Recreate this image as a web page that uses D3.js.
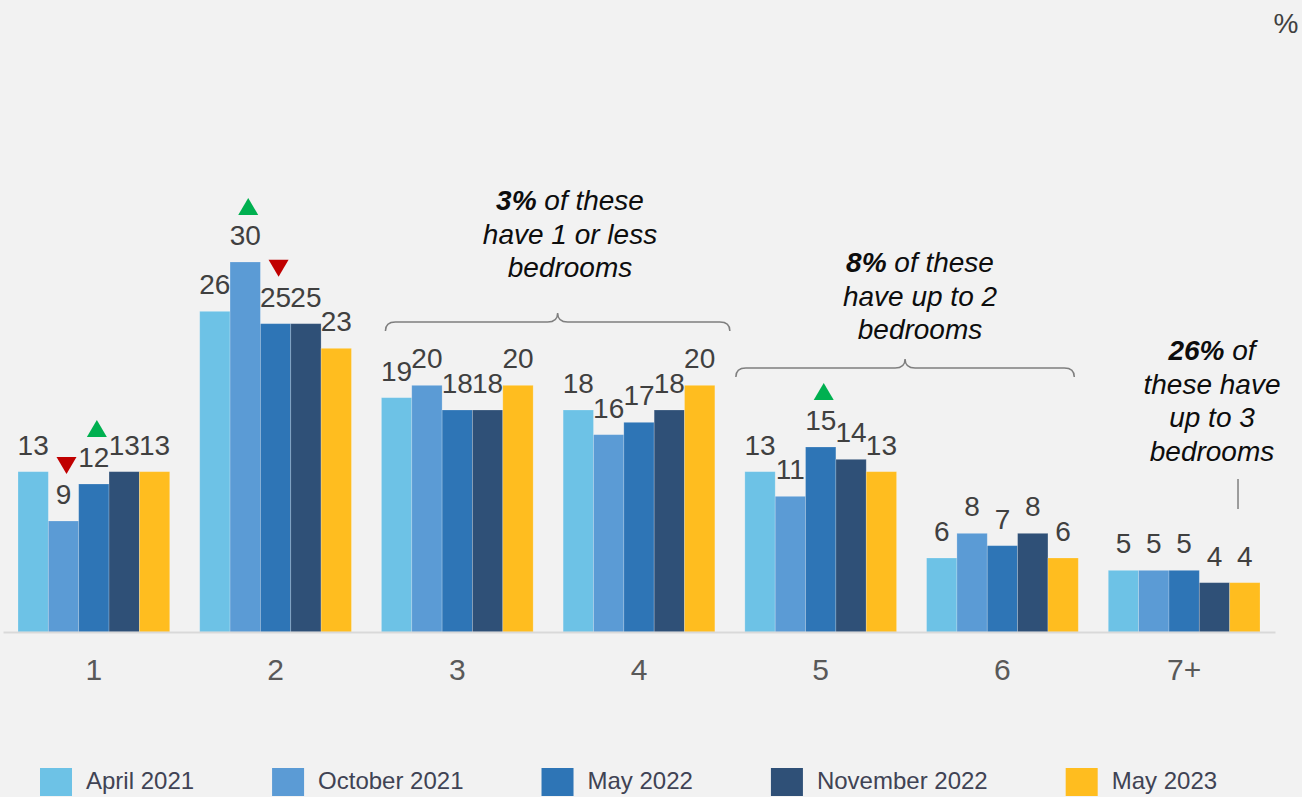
<!DOCTYPE html>
<html>
<head>
<meta charset="utf-8">
<script src="https://cdn.jsdelivr.net/npm/d3@7"></script>
<style>
  html, body { margin: 0; padding: 0; background: #f2f2f2; }
  svg { display: block; font-family: "Liberation Sans", Arial, sans-serif; }
</style>
</head>
<body>
<svg id="chart" width="1302" height="797"></svg>
<script>
// ---------- DATA ----------
const categories = ["1", "2", "3", "4", "5", "6", "7+"];
const seriesNames = ["April 2021", "October 2021", "May 2022", "November 2022", "May 2023"];
const april2021    = [13, 26, 19, 18, 13, 6, 5];
const october2021  = [9, 30, 20, 16, 11, 8, 5];
const may2022      = [12, 25, 18, 17, 15, 7, 5];
const november2022 = [13, 25, 18, 18, 14, 8, 4];
const may2023      = [13, 23, 20, 20, 13, 6, 4];
const seriesValues = [april2021, october2021, may2022, november2022, may2023];
const seriesColors = ["#6dc2e6", "#5b9bd5", "#2e75b6", "#2f5077", "#ffbd1f"];

// significance markers (category, series)
const upMarkers   = [["1", "May 2022"], ["2", "October 2021"], ["5", "May 2022"]];
const downMarkers = [["1", "October 2021"], ["2", "May 2022"]];

// annotation texts
const note1 = [["3%", " of these"], ["", "have 1 or less"], ["", "bedrooms"]];
const note2 = [["8%", " of these"], ["", "have up to 2"], ["", "bedrooms"]];
const note3 = [["26%", " of"], ["", "these have"], ["", "up to 3"], ["", "bedrooms"]];

// ---------- CHART ----------
const svg = d3.select("#chart");

const x = d3.scaleBand().domain(categories).range([3, 1275])
  .paddingInner(0.165).paddingOuter(0.0825);
const xs = d3.scaleBand().domain(seriesNames).range([0, x.bandwidth()]);
const y = d3.scaleLinear().domain([0, 30]).range([632, 262]);

const rows = [];
categories.forEach((c, ci) => {
  seriesNames.forEach((s, si) => {
    rows.push({ cat: c, series: s, value: seriesValues[si][ci], color: seriesColors[si] });
  });
});

const g = svg.append("g");

g.selectAll("rect.bar").data(rows).join("rect")
  .attr("class", "bar")
  .attr("x", d => x(d.cat) + xs(d.series))
  .attr("y", d => y(d.value))
  .attr("width", xs.bandwidth())
  .attr("height", d => y(0) - y(d.value))
  .attr("fill", d => d.color)
  .attr("stroke", "rgba(255,255,255,0.25)")
  .attr("stroke-width", 0.8);

g.selectAll("text.val").data(rows).join("text")
  .attr("class", "val")
  .attr("x", d => x(d.cat) + xs(d.series) + xs.bandwidth() / 2)
  .attr("y", d => y(d.value) - 17)
  .attr("text-anchor", "middle")
  .attr("font-size", 28)
  .attr("fill", "#404040")
  .text(d => d.value);

// axis
const axis = svg.append("g")
  .attr("transform", `translate(0,${y(0)})`)
  .call(d3.axisBottom(x).tickSize(0).tickSizeOuter(0));
axis.select(".domain").attr("stroke", "#d9d9d9").attr("stroke-width", 2);
axis.selectAll(".tick text")
  .attr("y", 48).attr("dy", 0)
  .attr("font-size", 30)
  .attr("font-family", "'Liberation Sans', Arial, sans-serif")
  .attr("fill", "#595959");

// markers
function valueOf(cat, series) {
  return seriesValues[seriesNames.indexOf(series)][categories.indexOf(cat)];
}
function markerPath(cat, series, up) {
  const cx = x(cat) + xs(series) + xs.bandwidth() / 2 + 3;
  const bottom = y(valueOf(cat, series)) - 17 - 30;
  const w = 20, h = 17;
  if (up) return `M${cx - w / 2},${bottom} L${cx + w / 2},${bottom} L${cx},${bottom - h} Z`;
  return `M${cx - w / 2},${bottom - h} L${cx + w / 2},${bottom - h} L${cx},${bottom} Z`;
}
svg.selectAll("path.up").data(upMarkers).join("path")
  .attr("class", "up").attr("d", d => markerPath(d[0], d[1], true)).attr("fill", "#00b050");
svg.selectAll("path.down").data(downMarkers).join("path")
  .attr("class", "down").attr("d", d => markerPath(d[0], d[1], false)).attr("fill", "#c00000");

// brackets
function bracket(xa, xb, yb) {
  const xm = (xa + xb) / 2, r = 10, h = 9;
  return `M${xa},${yb + h} Q${xa},${yb} ${xa + r},${yb} L${xm - r},${yb} Q${xm},${yb} ${xm},${yb - h} ` +
         `Q${xm},${yb} ${xm + r},${yb} L${xb - r},${yb} Q${xb},${yb} ${xb},${yb + h}`;
}
const bw = x.bandwidth();
svg.append("path").attr("d", bracket(x("3") + 4, x("4") + bw + 15, 322))
  .attr("fill", "none").attr("stroke", "#7f7f7f").attr("stroke-width", 1.5);
svg.append("path").attr("d", bracket(x("5") - 9, x("6") + bw - 4, 368))
  .attr("fill", "none").attr("stroke", "#7f7f7f").attr("stroke-width", 1.5);
svg.append("line")
  .attr("x1", x("7+") + bw - 22).attr("x2", x("7+") + bw - 22)
  .attr("y1", 479).attr("y2", 509)
  .attr("stroke", "#7f7f7f").attr("stroke-width", 1.5);

function note(lines, cx, y0) {
  const t = svg.append("text").attr("text-anchor", "middle")
    .attr("font-size", 28).attr("font-style", "italic").attr("fill", "#0d0d0d");
  lines.forEach((ln, i) => {
    const ts = t.append("tspan").attr("x", cx).attr("y", y0 + i * 33.5);
    if (ln[0]) ts.append("tspan").attr("font-weight", "bold").text(ln[0]);
    ts.append("tspan").text(ln[1]);
  });
}
note(note1, 570, 210);
note(note2, 920, 272);
note(note3, 1212, 360);

// percent sign
svg.append("text").attr("x", 1286).attr("y", 33).attr("text-anchor", "middle")
  .attr("font-size", 28).attr("fill", "#404040").text("%");

// legend
const legend = svg.append("g");
let lx = 40;
seriesNames.forEach((s, i) => {
  legend.append("rect").attr("x", lx).attr("y", 768).attr("width", 32).attr("height", 28)
    .attr("fill", seriesColors[i]);
  const t = legend.append("text").attr("x", lx + 46).attr("y", 789)
    .attr("font-size", 24).attr("fill", "#404354").text(s);
  lx = lx + 46 + t.node().getComputedTextLength() + 78;
});
</script>
</body>
</html>
